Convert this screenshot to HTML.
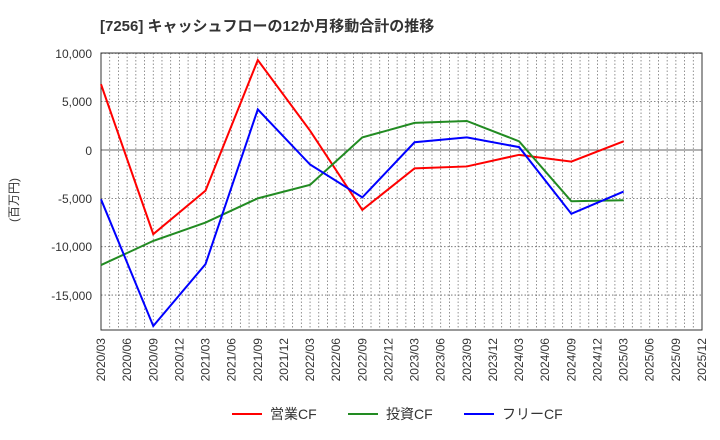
<!DOCTYPE html>
<html><head><meta charset="utf-8"><style>body{margin:0;background:#fff}svg{display:block;font-family:"Liberation Sans","Noto Sans CJK JP",sans-serif}</style></head><body>
<svg width="720" height="440" xmlns="http://www.w3.org/2000/svg">
<text x="100" y="31" font-size="15" font-weight="bold" fill="#333">[7256]  キャッシュフローの12か月移動合計の推移</text>
<g id="all"></g>
<text transform="translate(18,200) rotate(-90)" font-size="12" fill="#333" text-anchor="middle">(百万円)</text>
<g font-size="12" fill="#333" text-anchor="end">
<text x="92" y="58">10,000</text><text x="92" y="106">5,000</text><text x="92" y="155">0</text><text x="92" y="203">-5,000</text><text x="92" y="251">-10,000</text><text x="92" y="300">-15,000</text>
</g>
<g id="xl" font-size="12" fill="#333" text-anchor="end"></g>
<g font-size="14" fill="#333">
<line x1="232" y1="414" x2="262" y2="414" stroke="#f00" stroke-width="2"/><text x="270" y="419">営業CF</text>
<line x1="348" y1="414" x2="378" y2="414" stroke="#228b22" stroke-width="2"/><text x="386" y="419">投資CF</text>
<line x1="464" y1="414" x2="494" y2="414" stroke="#00f" stroke-width="2"/><text x="502" y="419">フリーCF</text>
</g>
</svg>
<script>
const ns="http://www.w3.org/2000/svg",s=document.querySelector('svg');
const L=101,R=702,T=53,B=330,X=i=>L+i*(R-L)/23,Y=v=>150-v*0.00967;
function el(t,a,p){const e=document.createElementNS(ns,t);for(const k in a)e.setAttribute(k,a[k]);(p||s).appendChild(e);return e}
const g=document.getElementById('all');
for(let m=1;m<69;m++){const x=L+m*(R-L)/69;el('line',{x1:x,x2:x,y1:T,y2:B,stroke:'#777','stroke-width':0.8,'stroke-dasharray':'1.5,2'},g)}
[10000,5000,-5000,-10000,-15000].forEach(v=>el('line',{x1:L,x2:R,y1:Y(v),y2:Y(v),stroke:'#666','stroke-width':0.8,'stroke-dasharray':'1.5,2'},g));
el('line',{x1:L,x2:R,y1:150,y2:150,stroke:'#666','stroke-width':1},g);
el('rect',{x:L,y:T,width:R-L,height:B-T,fill:'none',stroke:'#333','stroke-width':1},g);
const D=[['#f00',[6800,-8700,-4200,9300,2000,-6200,-1900,-1700,-500,-1200,900]],['#228b22',[-11900,-9400,-7500,-5000,-3600,1300,2800,3000,900,-5300,-5200]],['#00f',[-5100,-18200,-11800,4200,-1500,-4900,800,1300,300,-6600,-4300]]];
D.forEach(([c,d])=>el('polyline',{points:d.map((v,i)=>X(i*2)+','+Y(v)).join(' '),fill:'none',stroke:c,'stroke-width':2},g));
const xl=document.getElementById('xl');
for(let i=0;i<24;i++){const yr=2020+Math.floor(i/4),mo=['03','06','09','12'][i%4];const x=X(i)+4;const t=el('text',{transform:`translate(${x},338) rotate(-90)`},xl);t.textContent=yr+'/'+mo}
</script>
</body></html>
